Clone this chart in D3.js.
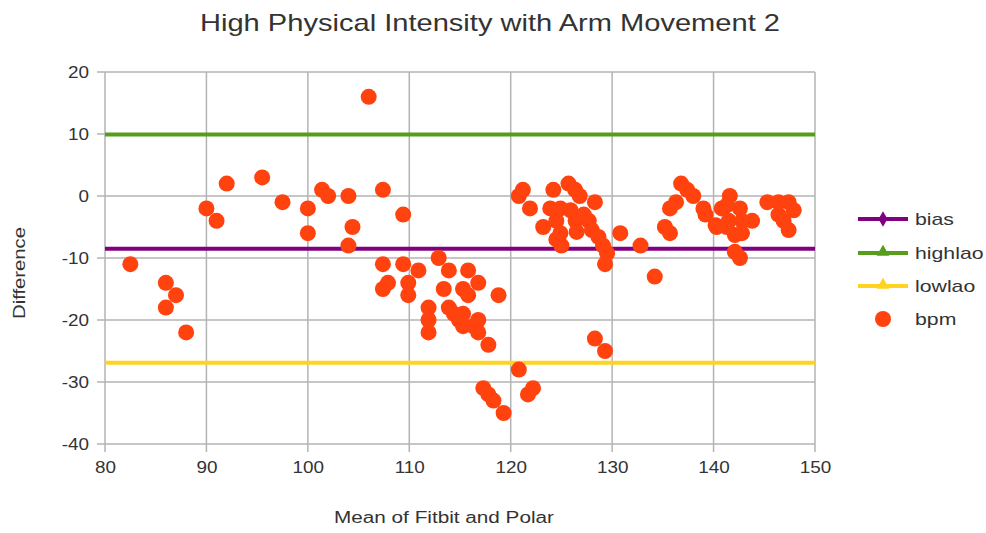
<!DOCTYPE html>
<head>
<meta charset="utf-8">
<title>High Physical Intensity with Arm Movement 2</title>
<script src="https://d3js.org/d3.v7.min.js"></script>
</head>

<style>
body { margin: 0; background: #fff; }
text { font-family: "Liberation Sans", Arial, sans-serif; fill: #333; }
</style>

<body>
 <svg class="chart"></svg>
</body>

<script>
// mean of fitbit and polar (x) / difference (y)
var meanVals = [82.5, 86, 87, 86, 88, 90, 91, 92, 95.5, 97.5, 100, 100, 101.4, 102, 104, 104, 104.4,
  106, 107.4, 107.4, 107.4, 107.9, 109.4, 109.4, 109.9, 109.9, 110.9, 111.9, 111.9, 111.9, 112.9,
  113.4, 113.9, 113.9, 114.4, 114.9, 115.3, 115.3, 115.3, 115.8, 115.8, 116.3, 116.8, 116.8, 116.8,
  117.3, 117.8, 117.8, 118.3, 118.8, 119.3, 120.8, 121.7, 122.2,
  120.8, 121.2, 121.9, 123.2, 123.9, 124.2, 124.5, 124.5, 124.9, 124.9, 125, 125.7, 125.9, 126.35,
  126.4, 126.5, 126.8, 127.2, 127.7, 128, 128.3, 128.65, 129.1, 129.5, 129.3, 128.3, 129.3, 130.8,
  132.8, 134.2, 135.2, 135.7, 135.7, 136.3, 136.8, 137.4, 138, 139, 139.2, 140.2, 140.3, 140.8,
  141.3, 141.6, 141.3, 141.5, 142.1, 142.6, 142.8, 142.8, 142.1, 142.6, 143.8, 145.3, 146.4, 147.4,
  147.9, 146.4, 146.9, 147.4];
var diffVals = [-11, -14, -16, -18, -22, -2, -4, 2, 3, -1, -2, -6, 1, 0, 0, -8, -5,
  16, 1, -11, -15, -14, -3, -11, -14, -16, -12, -18, -20, -22, -10,
  -15, -12, -18, -19, -20, -15, -19, -21, -12, -16, -21, -14, -20, -22,
  -31, -24, -32, -33, -16, -35, -28, -32, -31,
  0, 1, -2, -5, -2, 1, -4, -7, -2, -6, -8, 2, -2.3, 1,
  -4, -5.8, 0, -3, -4, -5.5, -1, -6.6, -8, -9.2, -11, -23, -25, -6,
  -8, -13, -5, -6, -2, -1, 2, 1, 0, -2, -3, -4.7, -5, -2,
  -1.5, 0, -5, -4, -6.3, -2, -4, -6, -9, -10, -4, -1, -1, -1,
  -2.3, -3, -4, -5.5];

var bias = -8.5;
var highlao = 9.9;
var lowlao = -26.9;

var xTicks = [80, 90, 100, 110, 120, 130, 140, 150];
var yTicks = [20, 10, 0, -10, -20, -30, -40];

var seriesNames = ["bias", "highlao", "lowlao", "bpm"];
var seriesColors = ["#800080", "#579d1c", "#ffd320", "#ff420e"];

var W = 986, H = 533;
var margin = {top: 72, right: 171, bottom: 89, left: 105};
var width = W - margin.left - margin.right;
var height = H - margin.top - margin.bottom;

// the reference renders text a bit wider than the font would, stretch it
function stretch(sel, k) {
  sel.each(function(){
    var len = this.getComputedTextLength();
    d3.select(this).attr("textLength", len * k).attr("lengthAdjust", "spacingAndGlyphs");
  });
}

var svg = d3.select(".chart").attr("width", W).attr("height", H);
var chart = svg.append("g")
  .attr("transform", "translate(" + margin.left + "," + margin.top + ")");

var xChart = d3.scaleLinear().domain([80, 150]).range([0, width]);
var yChart = d3.scaleLinear().domain([-40, 20]).range([height, 0]);

// grid
chart.append("g").selectAll("line").data(xTicks).enter().append("line")
  .attr("x1", function(d){ return xChart(d); }).attr("x2", function(d){ return xChart(d); })
  .attr("y1", 0).attr("y2", height + 8)
  .attr("stroke", "#b3b3b3").attr("stroke-width", 1.5);
chart.append("g").selectAll("line").data(yTicks).enter().append("line")
  .attr("y1", function(d){ return yChart(d); }).attr("y2", function(d){ return yChart(d); })
  .attr("x1", -8).attr("x2", width)
  .attr("stroke", "#b3b3b3").attr("stroke-width", 1.5);

// axes (labels only, lines come from the grid)
var fmt = function(d){ return String(d); };
var xAxis = d3.axisBottom(xChart).tickValues(xTicks).tickFormat(fmt).tickSize(0).tickPadding(18);
var yAxis = d3.axisLeft(yChart).tickValues(yTicks).tickFormat(fmt).tickSize(0).tickPadding(16);
var gx = chart.append("g").attr("transform", "translate(0," + height + ")").call(xAxis);
var gy = chart.append("g").call(yAxis);
[gx, gy].forEach(function(g){
  g.select(".domain").remove();
  g.selectAll("text").style("font-size", "16px").style("fill", "#333")
    .style("font-family", "Liberation Sans, Arial, sans-serif")
    .call(stretch, 1.18);
});

// limit lines
var hLines = [bias, highlao, lowlao];
chart.append("g").selectAll("line").data(hLines).enter().append("line")
  .attr("x1", 0).attr("x2", width)
  .attr("y1", function(d){ return yChart(d); }).attr("y2", function(d){ return yChart(d); })
  .attr("stroke", function(d, i){ return seriesColors[i]; })
  .attr("stroke-width", 4);

// points
var pts = meanVals.map(function(m, i){ return {x: m, y: diffVals[i]}; });
chart.append("g").selectAll("circle").data(pts).enter().append("circle")
  .attr("cx", function(d){ return xChart(d.x); })
  .attr("cy", function(d){ return yChart(d.y); })
  .attr("r", 8)
  .attr("fill", seriesColors[3]);

// title
svg.append("text")
  .attr("x", 490).attr("y", 31)
  .attr("text-anchor", "middle")
  .style("font-size", "24px")
  .text("High Physical Intensity with Arm Movement 2")
  .attr("textLength", 580).attr("lengthAdjust", "spacingAndGlyphs");

// axis labels
svg.append("text")
  .attr("x", 444).attr("y", 523)
  .attr("text-anchor", "middle")
  .style("font-size", "16px")
  .text("Mean of Fitbit and Polar")
  .attr("textLength", 220).attr("lengthAdjust", "spacingAndGlyphs");
svg.append("text")
  .attr("transform", "translate(25,273) rotate(-90)")
  .attr("text-anchor", "middle")
  .style("font-size", "17px")
  .text("Difference")
  .attr("textLength", 92).attr("lengthAdjust", "spacingAndGlyphs");

// legend
var legY = [219, 253, 286, 319];
var leg = svg.append("g");
seriesNames.forEach(function(name, i){
  var g = leg.append("g").attr("transform", "translate(858," + legY[i] + ")");
  if (i < 3) {
    g.append("line").attr("x1", 0).attr("x2", 50).attr("y1", 0).attr("y2", 0)
      .attr("stroke", seriesColors[i]).attr("stroke-width", 4);
    var sym = i === 0 ? d3.symbolDiamond : d3.symbolTriangle;
    g.append("path").attr("d", d3.symbol().type(sym).size(70)())
      .attr("transform", "translate(25," + (i === 0 ? 0 : -1) + ")")
      .attr("fill", seriesColors[i]);
  } else {
    g.append("circle").attr("cx", 25).attr("cy", 0).attr("r", 8).attr("fill", seriesColors[i]);
  }
  g.append("text").attr("x", 57).attr("y", 6).style("font-size", "17px").text(name)
    .call(stretch, 1.25);
});
</script>
